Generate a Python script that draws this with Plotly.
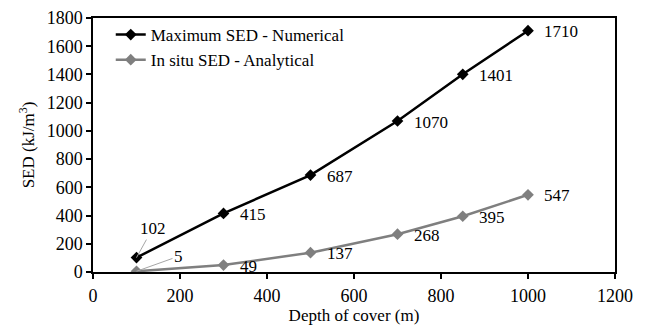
import plotly.graph_objects as go

depth = [100, 300, 500, 700, 850, 1000]
max_sed = [102, 415, 687, 1070, 1401, 1710]
insitu_sed = [5, 49, 137, 268, 395, 547]

x_ticks = [0, 200, 400, 600, 800, 1000, 1200]
y_ticks = [0, 200, 400, 600, 800, 1000, 1200, 1400, 1600, 1800]

FONT = "Liberation Serif"
BLACK = "#000000"
GREY = "#7f7f7f"
LEADER = "#a6a6a6"

fig = go.Figure()
fig.add_trace(go.Scatter(
    x=depth, y=max_sed, mode="lines+markers", name="Maximum SED - Numerical",
    line=dict(color=BLACK, width=2.5),
    marker=dict(symbol="diamond", size=9, color=BLACK),
    legendgroup="a",
))
fig.add_trace(go.Scatter(
    x=depth, y=insitu_sed, mode="lines+markers", name="In situ SED - Analytical",
    line=dict(color=GREY, width=2.5),
    marker=dict(symbol="diamond", size=9, color=GREY),
    legendgroup="b",
))

annotations = []
for series in (max_sed, insitu_sed):
    for i, (xv, yv) in enumerate(zip(depth, series)):
        if i == 0:
            continue
        annotations.append(dict(
            x=xv, y=yv, text=str(yv), showarrow=False,
            xanchor="left", yanchor="middle", xshift=14, yshift=-1,
            font=dict(family=FONT, size=17, color=BLACK),
        ))

# first points carry leader lines
annotations.append(dict(
    x=depth[0], y=max_sed[0], text=str(max_sed[0]), showarrow=True,
    arrowhead=0, arrowwidth=1, arrowcolor=LEADER, ax=16, ay=-29,
    font=dict(family=FONT, size=17, color=BLACK),
))
annotations.append(dict(
    x=depth[0], y=insitu_sed[0], text=str(insitu_sed[0]), showarrow=True,
    arrowhead=0, arrowwidth=1, arrowcolor=LEADER, ax=42, ay=-15,
    font=dict(family=FONT, size=17, color=BLACK),
))

axis_common = dict(
    showline=True, linecolor=BLACK, linewidth=1.5, mirror=True,
    ticks="outside", ticklen=5, tickcolor=BLACK, tickwidth=1.5,
    showgrid=False, zeroline=False, automargin=False,
    tickfont=dict(family=FONT, size=18, color=BLACK),
)

fig.update_layout(
    width=648, height=329,
    margin=dict(l=93, r=33, t=18, b=57),
    paper_bgcolor="white", plot_bgcolor="white",
    font=dict(family=FONT, color=BLACK),
    xaxis=dict(
        range=[0, 1200], tickvals=x_ticks, ticklabelstandoff=2,
        title=dict(text="Depth of cover (m)", standoff=2,
                   font=dict(family=FONT, size=17, color=BLACK)),
        **axis_common,
    ),
    yaxis=dict(
        range=[0, 1800], tickvals=y_ticks,
        title=dict(text="SED (kJ/m<sup>3</sup>)", standoff=8,
                   font=dict(family=FONT, size=17, color=BLACK)),
        **axis_common,
    ),
    legend=dict(
        x=0.034, y=1.004, xanchor="left", yanchor="top",
        bgcolor="rgba(0,0,0,0)", traceorder="grouped", tracegroupgap=0,
        font=dict(family=FONT, size=17, color=BLACK),
    ),
    annotations=annotations,
)

fig.write_html("out.html")
